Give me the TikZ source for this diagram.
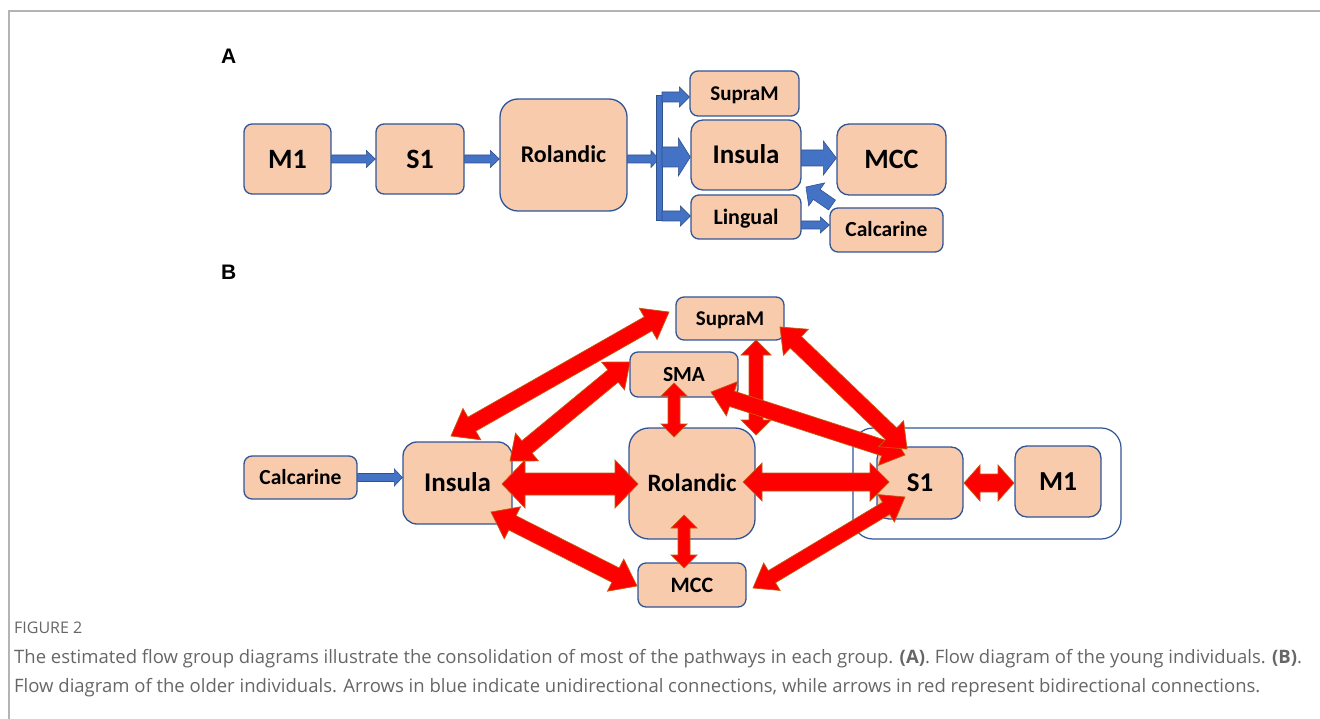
\documentclass[tikz,border=0pt]{standalone}
\usepackage{fontspec}
\setmainfont{Carlito}
\newfontfamily\labfont{Liberation Sans}
\newfontfamily\capfont{Open Sans}
\usetikzlibrary{calc}
\definecolor{peach}{HTML}{F8CBAD}
\definecolor{boxline}{HTML}{2F5597}
\definecolor{arrblue}{HTML}{4472C4}
\definecolor{arrblueline}{HTML}{2F528F}
\definecolor{arrred}{HTML}{FF0000}
\definecolor{arrredline}{HTML}{C55A11}
\definecolor{capgray}{HTML}{666666}
\definecolor{framegray}{HTML}{B4B4B4}
% #1 style, #2 from, #3 to, #4 shaft half width, #5 head half width, #6 head length
\newcommand\dblarrow[6]{%
  \draw[#1] (#2) -- ($(#2)!#6!(#3)!#5!90:(#3)$) -- ($(#2)!#6!(#3)!#4!90:(#3)$)
    -- ($(#3)!#6!(#2)!#4!-90:(#2)$) -- ($(#3)!#6!(#2)!#5!-90:(#2)$) -- (#3)
    -- ($(#3)!#6!(#2)!#5!90:(#2)$) -- ($(#3)!#6!(#2)!#4!90:(#2)$)
    -- ($(#2)!#6!(#3)!#4!-90:(#3)$) -- ($(#2)!#6!(#3)!#5!-90:(#3)$) -- cycle;}
\newcommand\sglarrow[6]{%
  \draw[#1] ($(#2)!#4!90:(#3)$) -- ($(#3)!#6!(#2)!#4!-90:(#2)$) -- ($(#3)!#6!(#2)!#5!-90:(#2)$)
    -- (#3) -- ($(#3)!#6!(#2)!#5!90:(#2)$) -- ($(#3)!#6!(#2)!#4!90:(#2)$)
    -- ($(#2)!#4!-90:(#3)$) -- cycle;}
\tikzset{
  box/.style={draw=boxline, fill=peach, line width=1.3pt, rounded corners=8pt,
    inner sep=0pt, text=black, text depth=0pt},
  fs/.style={font=\bfseries\fontsize{#1}{#1}\selectfont, text height={0.644*#1pt}},
  bluearr/.style={fill=arrblue, draw=arrblueline, line width=0.6pt, line join=miter},
  redarr/.style={fill=arrred, draw=arrredline, line width=0.7pt, line join=miter},
  panellab/.style={anchor=base west, inner sep=0pt, font=\labfont\bfseries\fontsize{21}{21}\selectfont},
  captext/.style={anchor=base west, text=capgray, inner sep=0pt},
}
\begin{document}
\begin{tikzpicture}[x=1pt, y=-1pt]
\useasboundingbox (0,0) rectangle (1320,719);
\draw[framegray, line width=2pt] (9,719) -- (9,11) -- (1320,11);

% ---------------- Panel A ----------------
\node[panellab] (labA) at (221,64) {A};
\node[box, fs=28, minimum width=87pt, minimum height=70pt] (mA) at (287.5,159) {M1};
\node[box, fs=28, minimum width=88pt, minimum height=70pt] (sA) at (420,159) {S1};
\node[box, fs=24, minimum width=127pt, minimum height=112pt, rounded corners=18pt] (rA) at (563.5,155) {Rolandic};
\node[box, fs=21, minimum width=109pt, minimum height=45pt] (supA) at (744.5,93.5) {SupraM};
\node[box, fs=27, minimum width=110pt, minimum height=70pt, rounded corners=12pt] (insA) at (746,155) {Insula};
\node[box, fs=22, minimum width=110pt, minimum height=44pt] (linA) at (746,217) {Lingual};
\node[box, fs=28, minimum width=109pt, minimum height=71pt, rounded corners=12pt] (mccA) at (891.5,159.5) {MCC};
\node[box, fs=21.5, minimum width=113pt, minimum height=44pt] (calA) at (886.5,230) {Calcarine};

\coordinate (a1) at (mA.east);
\coordinate (a2) at (sA.west);
\coordinate (a3) at (sA.east);
\coordinate (a4) at (rA.west |- sA.west);
\coordinate (a5) at (rA.east |- sA.west);
\coordinate (bar) at (659,159);
\coordinate (bt) at (662,97);
\coordinate (bm) at (662,157);
\coordinate (bb) at (662,216);
\coordinate (t1) at (supA.west |- bt);
\coordinate (t2) at (insA.west |- bm);
\coordinate (t3) at (linA.west |- bb);
\coordinate (mi) at (insA.east |- 0,158);
\coordinate (mt) at (mccA.west |- 0,158);
\coordinate (ci) at (832,205);
\coordinate (ct) at (806,187);
\coordinate (lc) at (linA.east |- 0,225);
\coordinate (lt) at (calA.west |- 0,225);

\sglarrow{bluearr}{a1}{a2}{4pt}{8.5pt}{9pt}
\sglarrow{bluearr}{a3}{a4}{4pt}{8.5pt}{9pt}
\sglarrow{bluearr}{a5}{bar}{4pt}{8.5pt}{8pt}
\fill[arrblue, draw=arrblueline, line width=0.6pt] (656.5,95) rectangle (662,220);
\sglarrow{bluearr}{bt}{t1}{5pt}{10pt}{10pt}
\sglarrow{bluearr}{bm}{t2}{10pt}{19pt}{12pt}
\sglarrow{bluearr}{bb}{t3}{5pt}{10pt}{10pt}
\sglarrow{bluearr}{mi}{mt}{8pt}{17pt}{13pt}
\sglarrow{bluearr}{ci}{ct}{6pt}{14pt}{13pt}
\sglarrow{bluearr}{lc}{lt}{4pt}{8pt}{9pt}

% ---------------- Panel B ----------------
\node[panellab] (labB) at (221,280) {B};
\draw[boxline, line width=1.2pt, rounded corners=20pt] (853,428) rectangle (1121,539);
\node[box, fs=21, minimum width=108pt, minimum height=43pt] (supB) at (730,318.5) {SupraM};
\node[box, fs=21.5, minimum width=108pt, minimum height=45pt] (smaB) at (684,374.5) {SMA};
\node[box, fs=21.5, minimum width=113pt, minimum height=43pt] (calB) at (300.5,477.5) {Calcarine};
\node[box, fs=27, minimum width=109pt, minimum height=82pt, rounded corners=14pt] (insB) at (457.5,483) {Insula};
\node[box, fs=25, minimum width=126pt, minimum height=111pt, rounded corners=20pt] (rolB) at (692,483.5) {Rolandic};
\node[box, fs=22, minimum width=108pt, minimum height=44pt] (mccB) at (692,585) {MCC};
\node[box, fs=27, minimum width=86pt, minimum height=72pt, rounded corners=12pt] (s1B) at (920,483) {S1};
\node[box, fs=27.5, minimum width=86pt, minimum height=71pt, rounded corners=12pt] (m1B) at (1058,481.5) {M1};

\coordinate (i1) at (451,436);  \coordinate (u1) at (669,312);
\coordinate (i2) at (510,461);  \coordinate (sm2) at (630,362);
\coordinate (i3) at (502,484);  \coordinate (r3) at (638,484);
\coordinate (i4) at (491,512);  \coordinate (mc4) at (637,586);
\coordinate (sm5) at (674,383); \coordinate (r5) at (674,437);
\coordinate (u6) at (756,340);  \coordinate (r6) at (756,435);
\coordinate (sm7) at (711,392); \coordinate (s7) at (905,455);
\coordinate (u8) at (780,327);  \coordinate (s8) at (907,449);
\coordinate (r9) at (743,482);  \coordinate (s9) at (889,482);
\coordinate (r10) at (684,515); \coordinate (mc10) at (684,568);
\coordinate (mc11) at (753,588); \coordinate (s11) at (905,497);
\coordinate (s12) at (964,483); \coordinate (m12) at (1014,483);
\coordinate (c13) at (calB.east); \coordinate (i13) at (insB.west |- calB.east);

\sglarrow{bluearr}{c13}{i13}{4pt}{8.5pt}{8pt}
\dblarrow{redarr}{i1}{u1}{8pt}{18pt}{24pt}
\dblarrow{redarr}{i2}{sm2}{8pt}{18pt}{22pt}
\dblarrow{redarr}{i3}{r3}{11pt}{24pt}{23pt}
\dblarrow{redarr}{i4}{mc4}{8pt}{18pt}{24pt}
\dblarrow{redarr}{sm5}{r5}{6pt}{13pt}{13pt}
\dblarrow{redarr}{u6}{r6}{7pt}{15pt}{15pt}
\dblarrow{redarr}{sm7}{s7}{8pt}{18pt}{22pt}
\dblarrow{redarr}{u8}{s8}{8pt}{18pt}{22pt}
\dblarrow{redarr}{r9}{s9}{9pt}{19pt}{19pt}
\dblarrow{redarr}{r10}{mc10}{6pt}{13pt}{13pt}
\dblarrow{redarr}{mc11}{s11}{7pt}{16pt}{22pt}
\dblarrow{redarr}{s12}{m12}{9pt}{18pt}{16pt}

% ---------------- Caption ----------------
\node[captext, font=\capfont\fontsize{16}{18}\selectfont] (fig) at (14,633) {FIGURE 2};
\node[captext, font=\capfont\fontsize{18.5}{20}\selectfont] (cap1) at (14,663) {The estimated flow group diagrams illustrate the consolidation of most of the pathways in each group. \textbf{(A)}. Flow diagram of the young individuals. \textbf{(B)}.};
\node[captext, font=\capfont\fontsize{18.5}{20}\selectfont] (cap2) at (14,692) {Flow diagram of the older individuals. Arrows in blue indicate unidirectional connections, while arrows in red represent bidirectional connections.};
\end{tikzpicture}
\end{document}
